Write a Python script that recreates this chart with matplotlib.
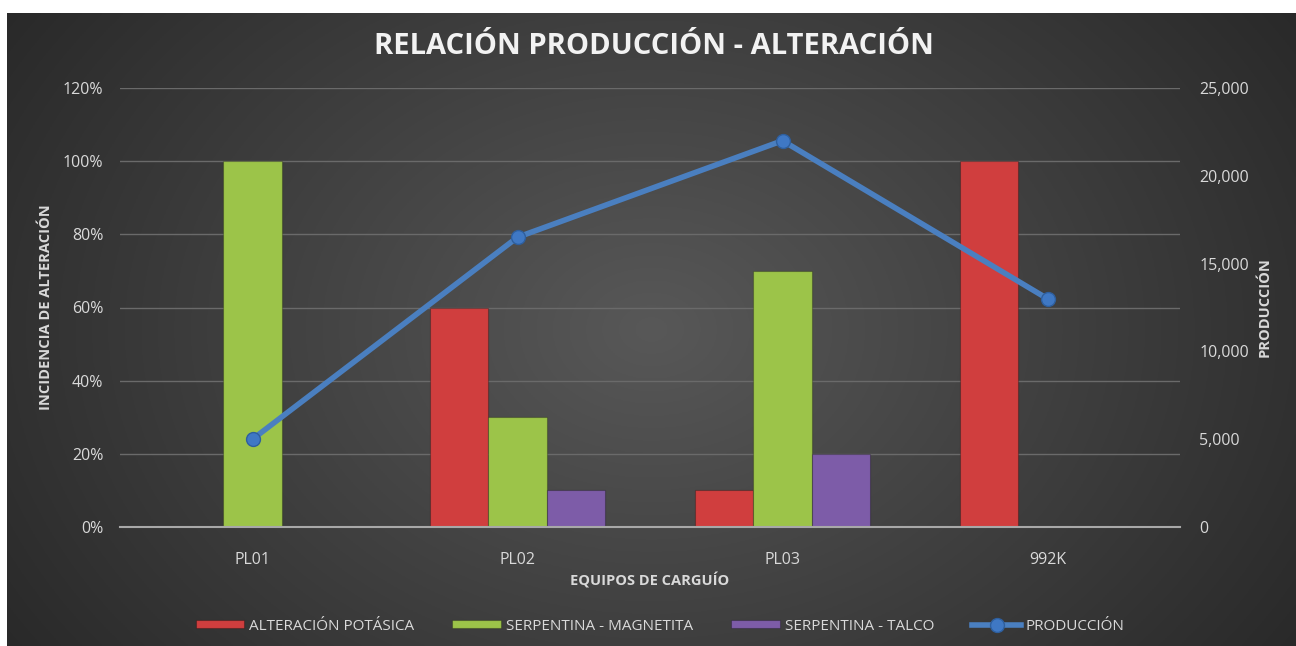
import matplotlib.pyplot as plt
import numpy as np
from matplotlib.ticker import FuncFormatter

# data
equipos = ["PL01", "PL02", "PL03", "992K"]
potasica = [0.0, 0.60, 0.10, 1.00]
magnetita = [1.00, 0.30, 0.70, 0.0]
talco = [0.0, 0.10, 0.20, 0.0]
produccion = [5000, 16500, 22000, 13000]

series = [
    ("ALTERACIÓN POTÁSICA", potasica, "#d03e3e"),
    ("SERPENTINA - MAGNETITA", magnetita, "#9cc449"),
    ("SERPENTINA - TALCO", talco, "#7d5ca8"),
]
line_color = "#4a7fc0"
text_color = "#d9d9d9"

plt.rcParams["font.family"] = ["Open Sans", "DejaVu Sans"]

W, H = 1296, 646
fig = plt.figure(figsize=(W / 100, H / 100), dpi=100)
fig.patch.set_facecolor("white")

# radial gradient background of the chart area
bg = fig.add_axes([7 / W, 0, 1 - 7 / W, 1 - 13 / H])
yy, xx = np.mgrid[0:1:300j, 0:1:600j]
r = np.sqrt(((xx - 0.5) / 0.62) ** 2 + ((yy - 0.5) / 0.95) ** 2)
shade = np.clip(0.345 - 0.19 * r, 0.16, 0.35)
bg.imshow(np.dstack([shade] * 3), aspect="auto", extent=[0, 1, 0, 1], origin="lower")
bg.set_axis_off()

ax = fig.add_axes([120 / W, 1 - 527 / H, 1060 / W, 439 / H])
ax.set_facecolor("none")
x = np.arange(len(equipos))
w = 0.22
for i, (name, vals, col) in enumerate(series):
    ax.bar(x + (i - 1) * w, vals, w, color=col, edgecolor="#00000040",
           linewidth=0.8, label=name, zorder=3)

ax.set_xlim(-0.5, len(equipos) - 0.5)
ax.set_ylim(0, 1.2)
ax.set_yticks(np.arange(0, 1.21, 0.2))
ax.yaxis.set_major_formatter(FuncFormatter(lambda v, p: f"{v * 100:.0f}%"))
ax.set_xticks(x)
ax.set_xticklabels(equipos)
ax.grid(axis="y", color="#6a6a6a", linewidth=1, zorder=0)
for s in ["top", "right", "left"]:
    ax.spines[s].set_visible(False)
ax.spines["bottom"].set_color("#a8a8a8")
ax.spines["bottom"].set_linewidth(1.5)
ax.spines["bottom"].set_zorder(4)
ax.tick_params(axis="both", length=0, colors=text_color, labelsize=11.5)
ax.tick_params(axis="y", pad=12)
ax.tick_params(axis="x", pad=18)
ax.set_xlabel("EQUIPOS DE CARGUÍO", color=text_color, fontsize=10.5,
              fontweight="bold", labelpad=3)
ax.set_ylabel("INCIDENCIA DE ALTERACIÓN", color=text_color, fontsize=10.5,
              fontweight="bold", labelpad=7)

ax2 = ax.twinx()
ax2.plot(x, produccion, color=line_color, linewidth=4, marker="o",
         markersize=10, markerfacecolor="#3f78c4", markeredgecolor="#2e5f9e",
         label="PRODUCCIÓN", zorder=5)
ax2.set_ylim(0, 25000)
ax2.set_yticks(np.arange(0, 25001, 5000))
ax2.yaxis.set_major_formatter(FuncFormatter(lambda v, p: f"{v:,.0f}"))
for s in ax2.spines.values():
    s.set_visible(False)
ax2.tick_params(axis="y", length=0, colors=text_color, labelsize=11.5, pad=14)
ax2.set_ylabel("PRODUCCIÓN", color=text_color, fontsize=10.5,
               fontweight="bold", labelpad=6)

fig.text(654 / W, 1 - 47 / H, "RELACIÓN PRODUCCIÓN - ALTERACIÓN",
         ha="center", va="center", color="#f2f2f2", fontsize=21,
         fontweight="bold")

h1, l1 = ax.get_legend_handles_labels()
h2, l2 = ax2.get_legend_handles_labels()
leg = fig.legend(h1 + h2, l1 + l2, loc="center", bbox_to_anchor=(660 / W, 1 - 626 / H),
                 ncol=4, frameon=False, fontsize=11, handlelength=3.2,
                 handleheight=0.5, columnspacing=2.5, handletextpad=0.3)
for t in leg.get_texts():
    t.set_color(text_color)

fig.savefig("out.png", dpi=100, facecolor=fig.get_facecolor())
